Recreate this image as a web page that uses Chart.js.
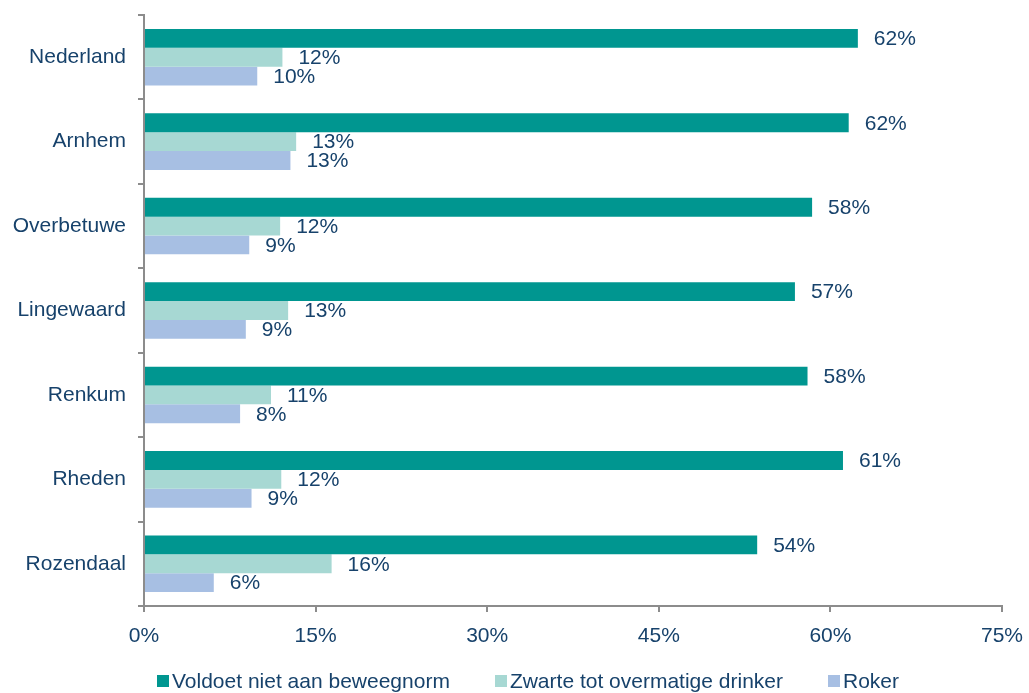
<!DOCTYPE html>
<html lang="nl">
<head>
  <meta charset="UTF-8" />
  <title>Leefstijl per gemeente</title>
  <script src="https://cdn.jsdelivr.net/npm/chart.js"></script>
  <style>
    body { margin: 0; background: #ffffff; font-family: 'Liberation Sans', Arial, sans-serif; }
    .wrap { width: 1029px; height: 693px; position: relative; }
    .legenda { position: absolute; left: 157px; top: 668px; display: flex; font-size: 21px; color: #17426b; line-height: 26px; white-space: nowrap; }
    .legenda span.item { display: flex; align-items: center; margin-right: 45px; }
    .legenda i { display: inline-block; width: 12px; height: 12px; margin-right: 3px; }
  </style>
</head>
<body>
  <div class="wrap">
    <canvas id="chart"></canvas>
    <div class="legenda" id="legenda"></div>
  </div>
  <script>
    const gemeenten = ['Nederland', 'Arnhem', 'Overbetuwe', 'Lingewaard', 'Renkum', 'Rheden', 'Rozendaal'];
    const beweegnorm = [62.4, 61.6, 58.4, 56.9, 58.0, 61.1, 53.6];
    const drinker = [12.1, 13.3, 11.9, 12.6, 11.1, 12.0, 16.4];
    const roker = [9.9, 12.8, 9.2, 8.9, 8.4, 9.4, 6.1];
    const reeksen = ['Voldoet niet aan beweegnorm', 'Zwarte tot overmatige drinker', 'Roker'];
    const kleuren = ['#009690', '#a7d8d3', '#a7bfe3'];
    const xTicks = [0, 15, 30, 45, 60, 75];

    const tekst = '#17426b';
    const asKleur = '#8c8c8c';
    const lettertype = "'Liberation Sans', Arial, sans-serif";

    // labels achter de balken
    const balkLabels = {
      id: 'balkLabels',
      afterDatasetsDraw(chart) {
        const ctx = chart.ctx;
        ctx.save();
        ctx.font = '21px ' + lettertype;
        ctx.fillStyle = tekst;
        ctx.textAlign = 'left';
        ctx.textBaseline = 'middle';
        chart.data.datasets.forEach((ds, i) => {
          chart.getDatasetMeta(i).data.forEach((bar, j) => {
            ctx.fillText(Math.round(ds.data[j]) + '%', bar.x + 16, bar.y + 1);
          });
        });
        ctx.restore();
      }
    };

    const chart = new Chart(document.getElementById('chart'), {
      type: 'bar',
      data: {
        labels: gemeenten,
        datasets: [
          { label: reeksen[0], data: beweegnorm, backgroundColor: kleuren[0] },
          { label: reeksen[1], data: drinker, backgroundColor: kleuren[1] },
          { label: reeksen[2], data: roker, backgroundColor: kleuren[2] }
        ]
      },
      plugins: [balkLabels],
      options: {
        indexAxis: 'y',
        responsive: true,
        maintainAspectRatio: false,
        animation: false,
        categoryPercentage: 0.67,
        barPercentage: 1.0,
        layout: { padding: { top: 15, right: 27, bottom: 0, left: 0 } },
        scales: {
          x: {
            min: 0,
            max: 75,
            afterBuildTicks: s => { s.ticks = xTicks.map(v => ({ value: v })); },
            afterFit: s => { s.height = 87; s.paddingLeft = 0; s.paddingRight = 0; },
            border: { color: asKleur, width: 2 },
            grid: { drawOnChartArea: false, color: asKleur, lineWidth: 2, tickLength: 6 },
            ticks: {
              color: tekst,
              padding: 12,
              font: { size: 21, family: lettertype },
              callback: v => v + '%'
            }
          },
          y: {
            afterFit: s => { s.width = 144; s.paddingTop = 0; s.paddingBottom = 0; },
            border: { color: asKleur, width: 2 },
            grid: { drawOnChartArea: false, color: asKleur, lineWidth: 2, tickLength: 6, offset: true },
            ticks: {
              color: tekst,
              padding: 12,
              font: { size: 21, family: lettertype }
            }
          }
        },
        plugins: {
          tooltip: { enabled: false },
          legend: { display: false }
        }
      }
    });

    // legenda onder de grafiek
    document.getElementById('legenda').innerHTML = reeksen.map((r, i) =>
      '<span class="item"><i style="background:' + kleuren[i] + '"></i>' + r + '</span>').join('');
  </script>
</body>
</html>
